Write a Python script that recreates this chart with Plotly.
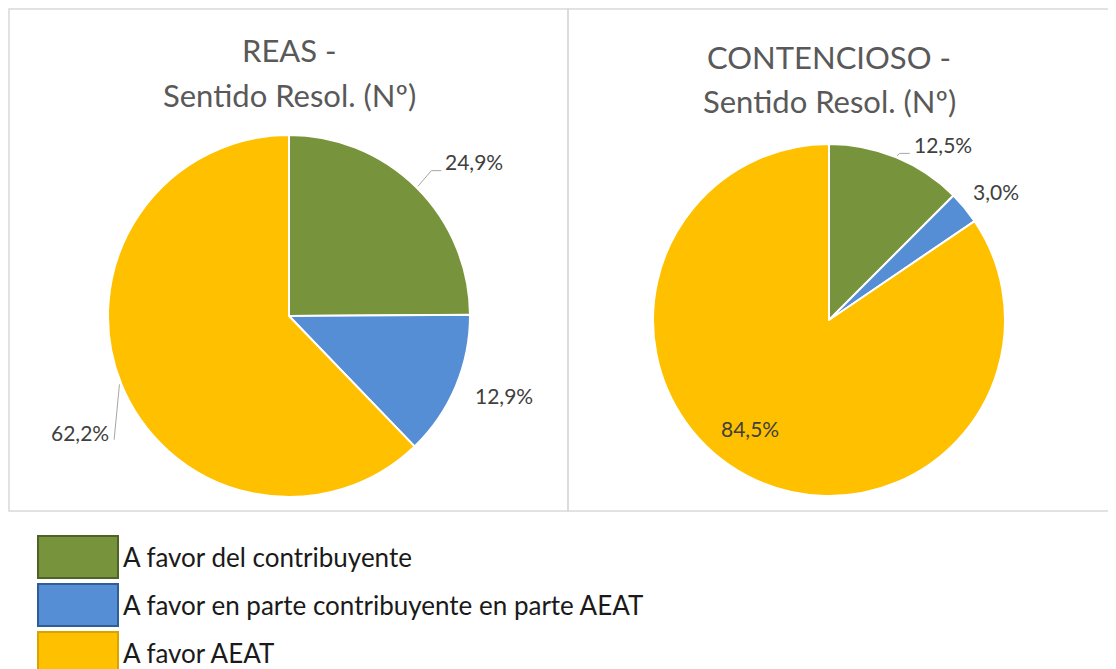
import math
import plotly.graph_objects as go

# ---------------- data ----------------
categories = ["A favor del contribuyente",
              "A favor en parte contribuyente en parte AEAT",
              "A favor AEAT"]
reas_values = [24.9, 12.9, 62.2]
contencioso_values = [12.5, 3.0, 84.5]
reas_title = ["REAS -", "Sentido Resol. (Nº)"]
contencioso_title = ["CONTENCIOSO -", "Sentido Resol. (Nº)"]

# ---------------- style ----------------
colors = ["#77933C", "#558ED5", "#FFC000"]
legend_borders = ["#4F6228", "#2F5D96", "#D9A400"]
FONT = "Lato"
W, H = 1116, 669
OFF = 8  # page body margin compensation


def px(x):
    return (x - OFF) / W


def py(y):
    return 1 - (y - OFF) / H


# pie geometry (pixels) and label styles: (radial factor, dx, dy, leader)
pies = [
    dict(values=reas_values, title=reas_title, cx=289, cy=316, r=181,
         title_ys=(50, 95),
         labels=[(1.21, 0, 1, True), (1.11, -1, 1, False), (1.0, -10, 49, True)],
         inside=[False, False, False]),
    dict(values=contencioso_values, title=contencioso_title, cx=829, cy=320, r=176,
         title_ys=(57, 101),
         labels=[(1.08, 10, 0, True), (1.08, -4, -7, False), (0.77, -16, -11, False)],
         inside=[False, False, True]),
]

fig = go.Figure()
annotations = []
shapes = []

for p in pies:
    cx, cy, r = p["cx"], p["cy"], p["r"]
    fig.add_trace(go.Pie(
        labels=categories, values=p["values"], sort=False, direction="clockwise",
        rotation=0, marker=dict(colors=colors, line=dict(color="white", width=2)),
        textinfo="none", hoverinfo="label+percent", showlegend=False,
        domain=dict(x=[px(cx - r), px(cx + r)], y=[py(cy + r), py(cy - r)]),
    ))
    # titles
    for txt, ty in zip(p["title"], p["title_ys"]):
        annotations.append(dict(text=txt, x=px(cx), y=py(ty), xref="paper", yref="paper",
                                showarrow=False, xanchor="center", yanchor="middle",
                                font=dict(family=FONT, size=31, color="#595959")))
    # data labels
    total = sum(p["values"])
    cum = 0
    for v, (f, dx, dy, leader), inside in zip(p["values"], p["labels"], p["inside"]):
        mid = (cum + v / 2) / total * 2 * math.pi
        cum += v
        sx, sy = math.sin(mid), -math.cos(mid)
        ax = cx + sx * r * f + dx
        ay = cy + sy * r * f + dy
        txt = f"{v:.1f}%".replace(".", ",")
        if inside:
            xa = "center"
        else:
            xa = "left" if sx >= 0 else "right"
        annotations.append(dict(text=txt, x=px(ax), y=py(ay), xref="paper", yref="paper",
                                showarrow=False, xanchor=xa, yanchor="middle",
                                font=dict(family=FONT, size=21, color="#404040")))
        if leader:
            ex, ey = cx + sx * r * 1.01, cy + sy * r * 1.01
            if sx >= 0:
                pts = [(ex, ey), (ax - 12, ay + 9), (ax - 2, ay + 9)]
            else:
                pts = [(ex, ey), (ax + 3, ay + 7)]
            path = "M " + " L ".join(f"{px(a)},{py(b)}" for a, b in pts)
            shapes.append(dict(type="path", path=path, xref="paper", yref="paper",
                               line=dict(color="#A6A6A6", width=1)))

# panel borders
for x0, x1 in [(9, 568), (568, 1115)]:
    shapes.append(dict(type="rect", xref="paper", yref="paper",
                       x0=px(x0), x1=px(x1), y0=py(511), y1=py(9),
                       line=dict(color="#D9D9D9", width=1.5), fillcolor="rgba(0,0,0,0)"))

# legend
for i, (cat, col, bcol) in enumerate(zip(categories, colors, legend_borders)):
    top = 536 + i * 48
    shapes.append(dict(type="rect", xref="paper", yref="paper",
                       x0=px(38), x1=px(118), y0=py(top + 42), y1=py(top),
                       line=dict(color=bcol, width=2), fillcolor=col))
    annotations.append(dict(text=cat, x=px(121), y=py(top + 21), xref="paper", yref="paper",
                            showarrow=False, xanchor="left", yanchor="middle",
                            font=dict(family=FONT, size=26, color="#1A1A1A")))

fig.update_layout(
    width=W, height=H, margin=dict(l=0, r=0, t=0, b=0),
    paper_bgcolor="white", plot_bgcolor="white",
    annotations=annotations, shapes=shapes,
)

fig.write_html("out.html")
